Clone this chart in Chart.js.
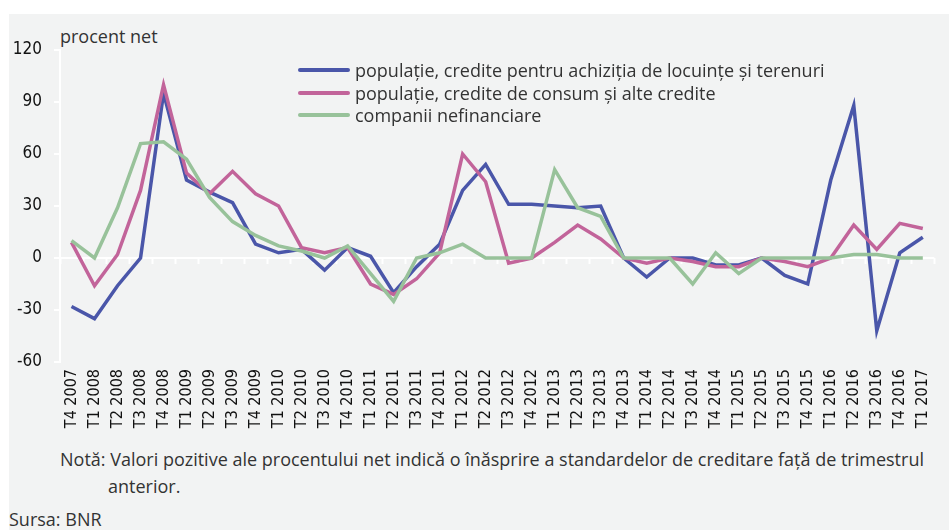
<!DOCTYPE html>
<html lang="ro">
<head>
<meta charset="UTF-8">
<title>Standardele de creditare - procent net</title>
<script src="https://cdn.jsdelivr.net/npm/chart.js"></script>
<style>
  body{margin:0;background:#fff;width:949px;height:530px;overflow:hidden;position:relative;font-family:'Open Sans','Noto Sans',sans-serif;color:#333}
  .panel{position:absolute;left:9px;top:14px;width:940px;height:516px;background:#f2f3f3}
  .wrap{position:absolute;left:0;top:0;width:949px;height:440px}
  .unit{position:absolute;left:60px;top:24px;font-size:18px;line-height:24px}
  .legend{position:absolute;left:298px;top:59px;font-size:18px;line-height:22.5px}
  .legend div{display:flex;align-items:center;white-space:nowrap}
  .legend .sw{display:inline-block;width:52px;height:4px;margin-right:5px;border-radius:2px}
  .note{position:absolute;left:60px;top:446px;font-size:18px;line-height:27px;white-space:nowrap}
  .note .ind{padding-left:48px}
  .src{position:absolute;left:9px;top:507px;font-size:18px;line-height:24px}
</style>
</head>
<body>
<div class="panel"></div>
<div class="unit">procent net</div>
<div class="wrap"><canvas id="chart" width="949" height="440"></canvas></div>
<div class="legend" id="legend"></div>
<div class="note">Notă: Valori pozitive ale procentului net indică o înăsprire a standardelor de creditare față de trimestrul<br><span class="ind">anterior.</span></div>
<div class="src">Sursa: BNR</div>

<script>
// trimestre
const labels = ['T4 2007','T1 2008','T2 2008','T3 2008','T4 2008','T1 2009','T2 2009','T3 2009','T4 2009',
  'T1 2010','T2 2010','T3 2010','T4 2010','T1 2011','T2 2011','T3 2011','T4 2011','T1 2012','T2 2012',
  'T3 2012','T4 2012','T1 2013','T2 2013','T3 2013','T4 2013','T1 2014','T2 2014','T3 2014','T4 2014',
  'T1 2015','T2 2015','T3 2015','T4 2015','T1 2016','T2 2016','T3 2016','T4 2016','T1 2017'];

const locuinte = [-28,-35,-16,0,95,45,38,32,8,3,5,-7,6,1,-20,-5,8,39,54,31,31,30,29,30,0,-11,0,0,-4,-4,0,-10,-15,45,88,-42,3,12];
const consum   = [9,-16,2,39,100,49,37,50,37,30,6,3,6,-15,-21,-12,3,60,44,-3,0,9,19,11,0,-3,0,-2,-5,-5,0,-2,-5,0,19,5,20,17];
const companii = [10,0,29,66,67,57,35,21,13,7,4,0,7,-9,-25,0,3,8,0,0,0,51,29,24,0,0,0,-15,3,-9,0,0,0,0,2,2,0,0];

const seriesNames = ['populație, credite pentru achiziția de locuințe și terenuri','populație, credite de consum și alte credite','companii nefinanciare'];
const seriesColors = ['#4a56a9','#c2649a','#98c29a'];
const yMin = -60, yMax = 120, yStep = 30;

// liniuțe albe pe axa zero, între trimestre
const zeroTicks = {
  id:'zeroTicks',
  beforeDatasetsDraw(chart){
    const x=chart.scales.x, y=chart.scales.y, ctx=chart.ctx;
    const y0=y.getPixelForValue(0);
    const step=x.getPixelForValue(1)-x.getPixelForValue(0);
    ctx.save();
    ctx.strokeStyle='#fff';ctx.lineWidth=2;
    for(let i=0;i<=labels.length;i++){
      const px=Math.round(x.getPixelForValue(i)-step/2)+0.5;
      ctx.beginPath();ctx.moveTo(px,y0);ctx.lineTo(px,y0+6);ctx.stroke();
    }
    ctx.restore();
  }
};

const data = [locuinte,consum,companii];
const chart = new Chart(document.getElementById('chart').getContext('2d'),{
  type:'line',
  data:{
    labels,
    datasets:data.map((d,i)=>({
      label:seriesNames[i],data:d,borderColor:seriesColors[i],backgroundColor:seriesColors[i],
      borderWidth:3.5,pointRadius:0,tension:0,order:2-i,borderJoinStyle:'miter'
    }))
  },
  options:{
    responsive:false,animation:false,
    layout:{padding:{top:50,left:0,right:0,bottom:0}},
    plugins:{legend:{display:false},tooltip:{enabled:false}},
    scales:{
      x:{
        offset:true,
        grid:{display:false,drawTicks:false},
        border:{display:false},
        ticks:{autoSkip:false,maxRotation:90,minRotation:90,padding:7,color:'#111',
          font:{family:"'Liberation Sans Narrow','DejaVu Sans Condensed',sans-serif",size:16}},
        afterFit(s){s.height=78;}
      },
      y:{
        min:yMin,max:yMax,
        ticks:{stepSize:yStep,padding:12,color:'#111',
          font:{family:"'Liberation Sans Narrow','DejaVu Sans Condensed',sans-serif",size:17}},
        grid:{
          color:c=>c.tick&&c.tick.value===0?'#ffffff':'rgba(0,0,0,0)',
          lineWidth:2,drawTicks:true,tickLength:6,tickColor:'#ffffff'
        },
        border:{display:true,color:'#ffffff',width:2},
        afterFit(s){s.width=60;}
      }
    }
  },
  plugins:[zeroTicks]
});

// legenda
const lg=document.getElementById('legend');
seriesNames.forEach((n,i)=>{
  const row=document.createElement('div');
  const sw=document.createElement('span');sw.className='sw';sw.style.background=seriesColors[i];
  row.appendChild(sw);row.appendChild(document.createTextNode(n));
  lg.appendChild(row);
});
</script>
</body>
</html>
